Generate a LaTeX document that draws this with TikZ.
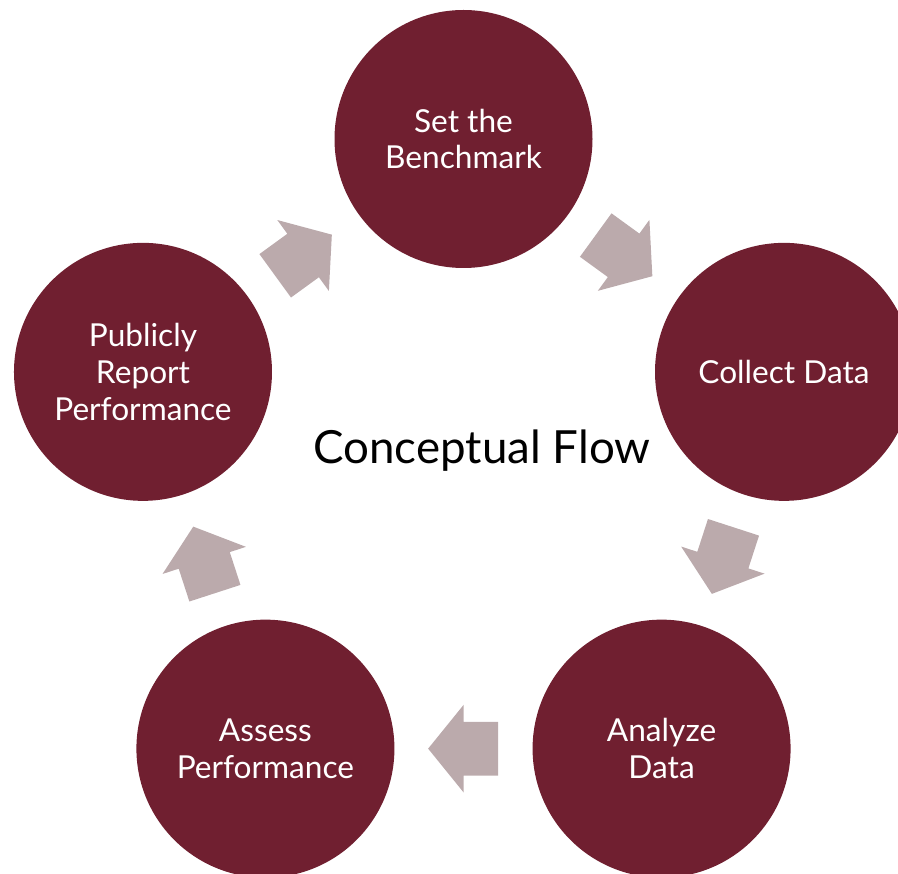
\documentclass[tikz,border=0pt]{standalone}
\usepackage{fontspec}
\setmainfont{Lato}
\usetikzlibrary{positioning}
\usetikzlibrary{calc}
\usetikzlibrary{shapes.arrows}
\definecolor{maroon}{HTML}{701F30}
\definecolor{flowgray}{HTML}{BBAAAC}
\tikzset{stage/.style={circle,fill=maroon,text=white,minimum size=5.16cm,inner sep=0pt,align=center,font=\fontsize{18}{21}\selectfont},
	flow/.style={single arrow,fill=flowgray,minimum height=1.4cm,minimum width=1.74cm,single arrow head extend=0.34cm,single arrow tip angle=102,inner xsep=0pt,inner ysep=0.53cm,anchor=tail}}

\begin{document}
\begin{tikzpicture}
	\useasboundingbox (-9.27,-7.94) rectangle (8.69,9.52);
	\node[stage] (bench) at (90:6.74) {Set the\\Benchmark}; \node[stage] (collect) at (18:6.74) {Collect Data};
	\node[stage] (analyze) at (-54:6.74) {Analyze\\Data}; \node[stage] (assess) at (-126:6.74) {Assess\\Performance};
	\node[stage] (report) at (162:6.74) {Publicly\\Report\\Performance};
	\node[font=\fontsize{26}{30}\selectfont,anchor=base] (title) at (0.37,0.26) {Conceptual Flow};
	\foreach \a/\b/\r in {bench/collect/-36,collect/analyze/-108,analyze/assess/180,assess/report/108,report/bench/36}
		\node[flow,rotate=\r] (\a-\b) at ($($(\a)!0.5!(\b)$)!0.7cm!(\a)$) {};
\end{tikzpicture}
\end{document}
